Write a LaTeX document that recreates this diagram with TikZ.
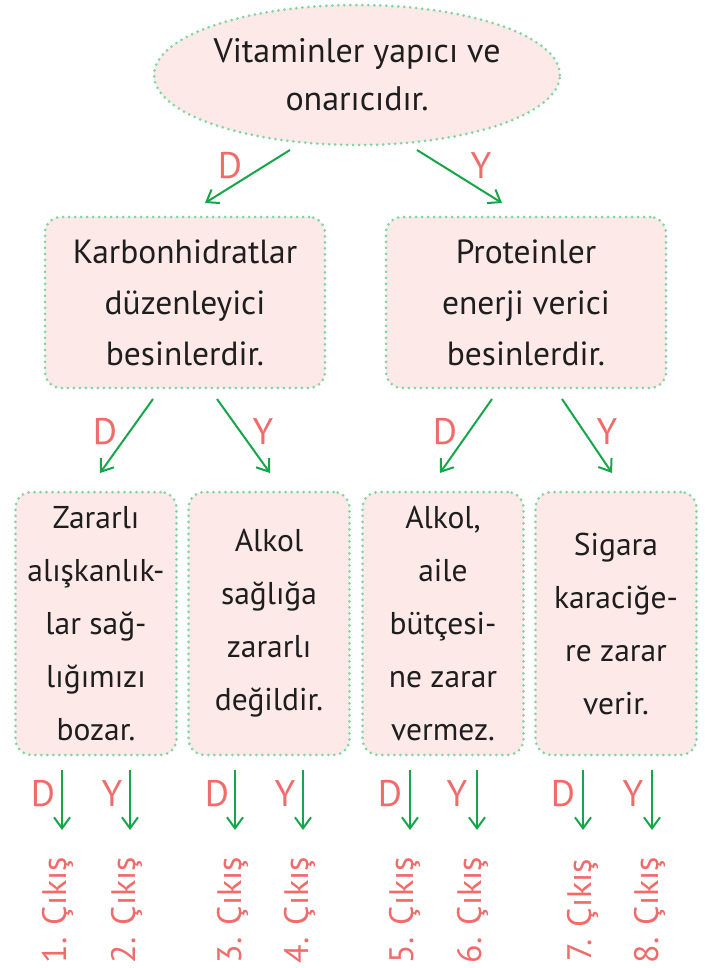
\documentclass[tikz,border=0pt]{standalone}
\usepackage{fontspec}
\setmainfont{PT Sans}
\usetikzlibrary{arrows.meta,shapes.geometric}
\definecolor{boxfill}{HTML}{FDE9E7}
\definecolor{dotgreen}{HTML}{7ED6A0}
\definecolor{arrgreen}{HTML}{16A64A}
\definecolor{lblred}{HTML}{F26B6B}
\definecolor{txt}{HTML}{1E1E1E}
\begin{document}
\begin{tikzpicture}[x=1pt,y=-1pt,
  dotline/.style={draw=dotgreen, line width=3pt, dash pattern=on 0pt off 6pt, line cap=round},
  bub/.style={ellipse, dotline, fill=boxfill, minimum width=400pt, minimum height=140pt, inner sep=0pt,
    align=center, text=txt, font=\fontsize{34}{48}\selectfont},
  bigbox/.style={rectangle, rounded corners=16pt, dotline, fill=boxfill, minimum width=280pt, minimum height=171pt,
    inner sep=0pt, align=center, text=txt, font=\fontsize{33.5}{51}\selectfont},
  smallbox/.style={rectangle, rounded corners=16pt, dotline, fill=boxfill, minimum width=161pt, minimum height=263pt,
    inner sep=0pt, align=center, text=txt, font=\fontsize{31.5}{53}\selectfont},
  arr/.style={draw=arrgreen, line width=2pt, -{Straight Barb[length=11pt,width=16pt,line width=2pt]}},
  lbl/.style={text=lblred, font=\fontsize{37}{37}\selectfont, inner sep=0pt},
  outlbl/.style={text=lblred, font=\fontsize{34}{34}\selectfont, rotate=90, inner sep=0pt}
]
\useasboundingbox (0,0) rectangle (704,968);

% top
\node[bub] (top) at (357,75) {Vitaminler yapıcı ve\\onarıcıdır.};

% level 2
\node[bigbox] (k) at (185,302.5) {Karbonhidratlar\\düzenleyici\\besinlerdir.};
\node[bigbox] (p) at (526,302.5) {Proteinler\\enerji verici\\besinlerdir.};

% level 3
\node[smallbox] (b1) at (96,623.5) {Zararlı\\alışkanlık-\\lar sağ-\\lığımızı\\bozar.};
\node[smallbox] (b2) at (269,623.5) {Alkol\\sağlığa\\zararlı\\değildir.};
\node[smallbox] (b3) at (443,623.5) {Alkol,\\aile\\bütçesi-\\ne zarar\\vermez.};
\node[smallbox] (b4) at (616,623.5) {Sigara\\karaciğe-\\re zarar\\verir.};

% top arrows
\coordinate (t1s) at (290,150); \coordinate (t1e) at (205,203);
\coordinate (t2s) at (417,150); \coordinate (t2e) at (502,203);
\draw[arr] (t1s) -- (t1e);
\draw[arr] (t2s) -- (t2e);
\node[lbl] (td) at (230,166) {D};
\node[lbl] (ty) at (481,166) {Y};

% level 2 arrows
\coordinate (k1s) at (153,399); \coordinate (k1e) at (100,473);
\coordinate (k2s) at (217,399); \coordinate (k2e) at (270,473);
\coordinate (p1s) at (492,399); \coordinate (p1e) at (440,473);
\coordinate (p2s) at (562,399); \coordinate (p2e) at (612,473);
\draw[arr] (k1s) -- (k1e);
\draw[arr] (k2s) -- (k2e);
\draw[arr] (p1s) -- (p1e);
\draw[arr] (p2s) -- (p2e);
\node[lbl] (kd) at (105,432) {D};
\node[lbl] (ky) at (263,432) {Y};
\node[lbl] (pd) at (445,432) {D};
\node[lbl] (py) at (607,432) {Y};

% bottom arrows and labels
\foreach \ax/\n in {62/1, 130/2, 235/3, 303/4, 410/5, 477/6, 583/7, 652/8}{
  \coordinate (s\n) at (\ax,770);
  \coordinate (e\n) at (\ax,830);
  \draw[arr] (s\n) -- (e\n);
}
\foreach \x/\n/\c in {43/1/D, 112/2/Y, 217/3/D, 285/4/Y, 390/5/D, 457/6/Y, 563/7/D, 633/8/Y}{
  \node[lbl] (L\n) at (\x,794) {\c};
}
\foreach \x/\n in {58/1, 127/2, 233/3, 300/4, 405/5, 473/6, 583/7, 650/8}{
  \node[outlbl] (o\n) at (\x,910) {\n. Çıkış};
}
\end{tikzpicture}
\end{document}
